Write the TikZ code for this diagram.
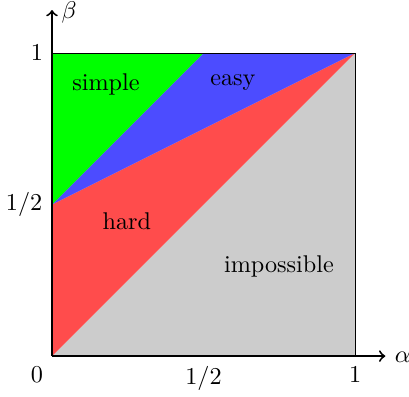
\documentclass[tikz,border=0pt]{standalone}
\begin{document}
\begin{tikzpicture}[x=4.4cm,y=4.4cm,
  lbl/.style={inner sep=0pt},
  region/.style={draw=none}]
\useasboundingbox (-0.1716,-0.132) rectangle (1.178,1.175);
\coordinate (O) at (0,0);
\coordinate (H) at (0,0.5);
\coordinate (T) at (0,1);
\coordinate (M) at (0.5,1);
\coordinate (C) at (1,1);
\coordinate (R) at (1,0);
\fill[region,fill=gray!40] (O) -- (C) -- (R) -- cycle;
\fill[region,fill=red!70] (O) -- (H) -- (C) -- cycle;
\fill[region,fill=blue!70] (H) -- (M) -- (C) -- cycle;
\fill[region,fill=green] (H) -- (T) -- (M) -- cycle;
\draw[line width=0.4pt] (O) rectangle (C);
\coordinate (XE) at (1.1,0);
\coordinate (YE) at (0,1.142);
\draw[thick,->] (O) -- (XE);
\draw[thick,->] (O) -- (YE);
\node[lbl,anchor=west] (alpha) at (1.13,-0.003) {$\alpha$};
\node[lbl,anchor=west] (beta) at (0.03,1.135) {$\beta$};
\node[lbl] (simple) at (0.178,0.898) {simple};
\node[lbl] (easy) at (0.597,0.903) {easy};
\node[lbl] (hard) at (0.247,0.446) {hard};
\node[lbl] (imp) at (0.749,0.297) {impossible};
\node[lbl] (zero) at (-0.05,-0.063) {$0$};
\node[lbl] (xhalf) at (0.5,-0.073) {$1/2$};
\node[lbl] (xone) at (1.0,-0.063) {$1$};
\node[lbl] (yone) at (-0.05,1.0) {$1$};
\node[lbl] (yhalf) at (-0.092,0.5) {$1/2$};
\end{tikzpicture}
\end{document}
